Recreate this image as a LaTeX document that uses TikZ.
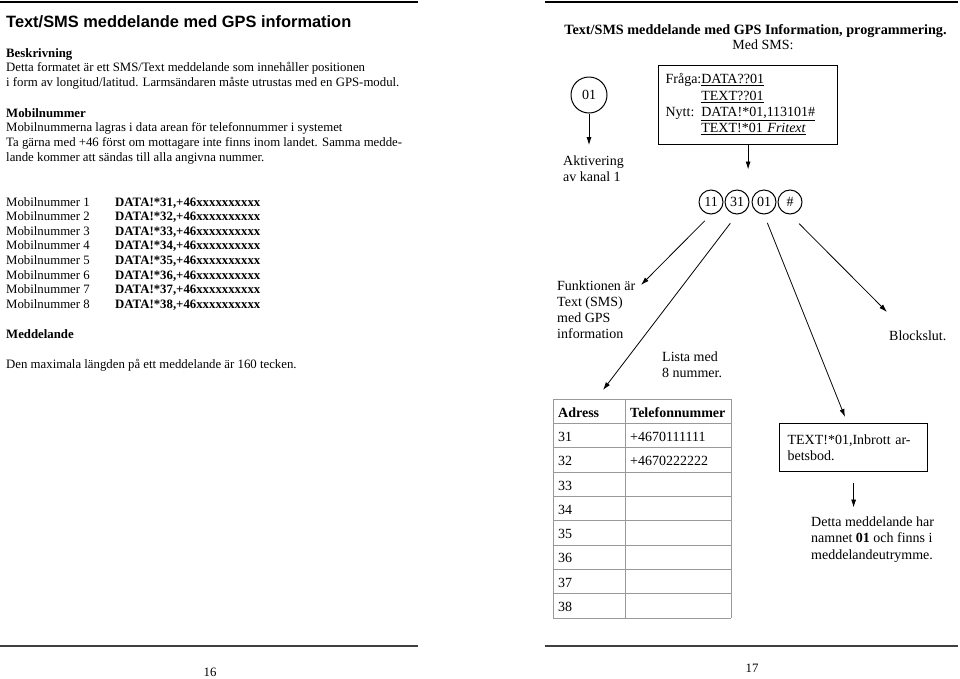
\documentclass[tikz,border=0pt]{standalone}
\usepackage{fontspec}
\setmainfont{Liberation Serif}
\newfontfamily\headfont{Liberation Sans}
\usetikzlibrary{arrows.meta,positioning}

\newcommand\lpage{\fontsize{12.8}{14.7}\selectfont}
\newcommand\rpage{\fontsize{14}{16.3}\selectfont}

\begin{document}
\begin{tikzpicture}
[x=1pt,y=-1pt,
 ltext/.style={anchor=base west,inner sep=0pt,font=\lpage,align=left},
 rtext/.style={anchor=base west,inner sep=0pt,font=\rpage,align=left},
 ring/.style={circle,draw=black,line width=1pt,inner sep=0pt,minimum size=24pt,font=\rpage},
 smsbox/.style={rectangle,draw=black,line width=1.2pt,anchor=north west,align=left,font=\rpage,inner xsep=7pt},
 pil/.style={-{Latex[length=8pt,width=5pt]},line width=0.8pt},
 rule/.style={line width=1.5pt},
 cell/.style={draw=black!40,line width=0.6pt}]
\useasboundingbox (0,0) rectangle (960,678);

% left page (multi-line nodes sit on their last line)
\draw[rule] (0,2) -- (418,2);
\node[anchor=base west,inner sep=0pt,font=\headfont\bfseries\fontsize{16.4}{19}\selectfont] (ltitle) at (6,27) {Text/SMS meddelande med GPS information};
\node[ltext] (beskr) at (6,86.4) {\textbf{Beskrivning}\\
  Detta formatet är ett SMS/Text meddelande som innehåller positionen\\
  i form av longitud/latitud. Larmsändaren måste utrustas med en GPS-modul.};
\node[ltext] (mobil) at (6,161.1) {\textbf{Mobilnummer}\\
  Mobilnummerna lagras i data arean för telefonnummer i systemet\\
  Ta gärna med +46 först om mottagare inte finns inom landet. Samma medde-\\
  lande kommer att sändas till alla angivna nummer.};
\foreach \i in {1,...,8} {
  \node[ltext] (mob\i) at (6,{206+14.65*(\i-1)}) {Mobilnummer \i};
  \node[ltext,font=\lpage\bfseries] (data\i) at (115,{206+14.65*(\i-1)}) {DATA!*3\i,+46xxxxxxxxxx};
}
\node[ltext,font=\lpage\bfseries] (medd) at (6,338) {Meddelande};
\node[ltext] (maxlen) at (6,368) {Den maximala längden på ett meddelande är 160 tecken.};
\draw[rule,black!75] (0,646) -- (418,646);
\node[anchor=base,inner sep=0pt,font=\lpage] (p16) at (210,676) {16};

% right page
\draw[rule] (545,2) -- (958,2);
\node[anchor=base,inner sep=0pt,font=\fontsize{14.2}{17}\selectfont\bfseries] (rtitle) at (755.5,34) {Text/SMS meddelande med GPS Information, programmering.};
\node[anchor=base,inner sep=0pt,font=\rpage] (medsms) at (763,49.5) {Med SMS:};

\node[ring,minimum size=36pt] (kanal) at (589,95) {01};
\node[rtext] (aktiv) at (563,181.3) {Aktivering\\av kanal 1};
\draw[pil,shorten >=10pt] (kanal.south) -- (kanal.south |- aktiv.north);

\node[smsbox,text width=165pt,minimum height=79pt] (fraga) at (658,65) {%
  \begin{tabular}{@{}l@{}l@{}}
  Fråga:&\underline{DATA??01}\\
  &\underline{TEXT??01}\\
  Nytt:&\underline{DATA!*01,113101\#}\\
  &\underline{TEXT!*01 \textit{Fritext}}
  \end{tabular}};

\node[ring] (r11) at (711,202) {11};
\node[ring] (r31) at (737,202) {31};
\node[ring] (r01) at (764,202) {01};
\node[ring] (rhash) at (790,202) {\#};
\draw[pil,shorten >=20pt] (fraga.south) -- (fraga.south |- r31.north);

\node[rtext] (funk) at (557,338.9) {Funktionen är\\Text (SMS)\\med GPS\\information};
\node[rtext] (lista) at (662,377.8) {Lista med\\8 nummer.};
\node[rtext] (block) at (889,340) {Blockslut.};

\coordinate (funktip) at (641,285);
\coordinate (listtip) at (603,390);
\coordinate (msgtip) at (845,417);
\coordinate (blocktip) at (887,312);
\draw[pil,shorten <=9pt] (r11.south) -- (funktip);
\draw[pil,shorten <=11pt] (r31.south) -- (listtip);
\draw[pil,shorten <=9pt] (r01.south) -- (msgtip);
\draw[pil,shorten <=13pt] (rhash.south) -- (blocktip);

% table of numbers
\foreach \k in {0,...,9}
  \draw[cell] (553,{399+24.33*\k}) -- (731,{399+24.33*\k});
\foreach \xx in {553,625,731}
  \draw[cell] (\xx,399) -- (\xx,618);
\node[rtext,font=\rpage\bfseries] (hadr) at (558,417) {Adress};
\node[rtext,font=\rpage\bfseries] (htel) at (630,417) {Telefonnummer};
\foreach \k in {1,...,8}
  \node[rtext] (adr\k) at (558,{417+24.33*\k}) {3\k};
\node[rtext] (tel1) at (630,441.3) {+4670111111};
\node[rtext] (tel2) at (630,465.7) {+4670222222};

\node[smsbox,text width=132pt,inner xsep=8pt,minimum height=48pt] (meddbox) at (779,423) {TEXT!*01,Inbrott ar-\\betsbod.};
\node[rtext] (detta) at (811,559.1) {Detta meddelande har\\namnet \textbf{01} och finns i\\meddelandeutrymme.};
\draw[pil,shorten <=11pt,shorten >=9pt] (meddbox.south) -- (meddbox.south |- detta.north);

\draw[rule,black!75] (545,646) -- (958,646);
\node[anchor=base,inner sep=0pt,font=\lpage] (p17) at (752,672.5) {17};
\end{tikzpicture}
\end{document}
